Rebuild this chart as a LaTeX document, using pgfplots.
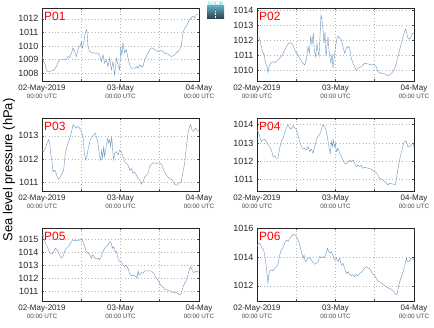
\documentclass[border=0pt]{standalone}
\usepackage{fontspec}
\setmainfont{Liberation Sans}
\usepackage{pgfplots}
\pgfplotsset{compat=1.18}
\definecolor{linec}{RGB}{105,150,192}
\definecolor{utc}{RGB}{70,70,70}
\definecolor{gridc}{RGB}{180,180,180}
\newcommand{\tl}[1]{#1\\[-1pt]{\fontsize{6.3}{7}\selectfont\color{utc}00:00 UTC}}
\pgfplotsset{panel/.style={
  scale only axis, width=157pt, height=73pt, anchor=south west,
  xmin=0, xmax=48, xtick={0,12,24,36,48},
  xticklabels={{\tl{02-May-2019}},,{\tl{03-May}},,{\tl{04-May}}},
  xticklabel style={align=center, font=\fontsize{8}{9}\selectfont, text=black!85},
  yticklabel style={font=\fontsize{9}{10}\selectfont, text=black!85},
  /pgf/number format/assume math mode=true,
  /pgf/number format/1000 sep={},
  /pgf/number format/fixed,
  ymajorgrids, xmajorgrids,
  grid style={gridc, line width=0.5pt, dash pattern=on 0.7pt off 2.6pt},
  tick align=inside, major tick length=2pt,
  tick style={black!70, line width=0.5pt},
  axis line style={black!85, line width=0.7pt},
  cycle list={{linec, line width=0.9pt, no marks, line join=round}},
}}
\newcommand{\plab}[1]{\node[anchor=north west, inner sep=0pt, text=red, font=\fontsize{12}{12}\selectfont] at ([xshift=2pt,yshift=-3.6pt]rel axis cs:0,1) {#1};}
\begin{document}
\begin{tikzpicture}
\useasboundingbox (0,0) rectangle (434pt,327pt);
% P01
\begin{axis}[panel, at={(42pt,246pt)}, ymin=1007.43, ymax=1012.8, ytick={1008,1009,1010,1011,1012}]
\addplot table {
0 1009.23
0.51 1008.86
1.02 1008.62
1.32 1008.25
1.83 1008.12
2.85 1008.17
3.57 1008.20
4.38 1008.49
4.89 1008.79
5.40 1008.99
6.42 1008.99
7.44 1009.04
7.95 1009.23
8.46 1009.16
8.97 1009.48
9.48 1009.85
9.99 1009.60
10.50 1009.23
11.01 1009.73
11.31 1009.98
11.72 1009.98
12.03 1010.35
12.33 1009.85
12.74 1010.22
13.15 1010.89
13.55 1011.21
13.76 1011.09
14.06 1009.98
14.57 1009.60
15.08 1009.53
16.10 1009.48
17.12 1009.48
17.63 1009.36
18.14 1008.86
18.65 1009.36
19.16 1008.74
19.67 1008.99
20.18 1008.49
20.69 1009.11
21.20 1008.25
21.71 1008.86
22.22 1007.88
22.73 1009.11
23.24 1008.62
23.75 1008.25
24.05 1009.85
24.46 1009.36
24.76 1010.22
25.27 1009.48
25.78 1009.73
26.29 1009.11
26.80 1008.62
27.31 1008.37
28.33 1008.37
28.84 1008.49
29.35 1008.37
29.86 1008.62
30.37 1008.49
30.88 1008.49
31.39 1008.99
31.90 1009.23
32.41 1009.48
32.92 1009.73
33.43 1009.85
33.94 1009.85
34.45 1009.73
35.46 1009.60
36.48 1009.68
37.50 1009.48
38.52 1009.41
39.54 1009.23
40.56 1009.36
41.58 1009.60
42.09 1009.73
42.60 1010.10
43.11 1010.96
43.62 1011.33
44.13 1011.46
44.64 1011.70
45.15 1011.95
45.66 1012.07
46.17 1012.20
46.68 1012.07
47.18 1012.32
47.80 1012.32
};
\plab{P01}
\end{axis}
% P02
\begin{axis}[panel, at={(257pt,246pt)}, ymin=1009.31, ymax=1014.18, ytick={1010,1011,1012,1013,1014}]
\addplot table {
0 1012.28
0.51 1012.28
1.02 1011.94
1.53 1011.39
2.14 1011.05
2.55 1010.60
3.06 1010.27
3.36 1009.87
3.67 1010.27
4.18 1010.49
4.89 1010.60
5.61 1010.54
6.42 1010.72
7.44 1010.94
8.25 1011.27
8.97 1011.61
9.68 1011.83
10.29 1011.88
11.01 1011.72
11.72 1011.27
12.33 1011.16
12.74 1010.94
13.35 1010.72
14.06 1010.49
14.57 1010.38
15.08 1010.72
15.59 1011.61
16.00 1011.16
16.41 1012.28
16.82 1011.72
17.22 1012.50
17.53 1011.39
17.94 1010.94
18.34 1011.83
18.65 1011.27
18.96 1010.94
19.26 1012.28
19.57 1013.73
19.87 1013.40
20.18 1012.73
20.48 1011.83
20.79 1012.61
21.10 1010.94
21.40 1011.61
21.71 1012.28
22.01 1011.39
22.32 1010.83
22.62 1010.49
22.93 1011.16
23.24 1010.16
23.54 1010.72
23.95 1011.50
24.36 1012.06
24.76 1012.32
25.27 1012.17
25.78 1012.06
26.29 1011.61
26.80 1011.16
27.31 1011.50
27.82 1011.61
28.33 1011.50
28.84 1010.83
29.35 1010.49
29.86 1010.27
30.37 1010.00
30.88 1010.16
31.90 1010.27
32.92 1010.49
33.94 1010.45
34.96 1010.38
35.77 1010.42
36.48 1010.27
36.99 1009.93
38.01 1009.82
39.03 1009.78
40.05 1009.66
40.56 1009.71
41.07 1009.82
41.58 1009.93
42.09 1010.16
42.60 1010.49
43.11 1010.94
43.62 1011.39
44.13 1011.83
44.64 1012.28
45.15 1012.61
45.45 1012.77
45.76 1012.50
46.17 1012.17
46.68 1012.10
47.18 1012.32
47.69 1012.50
48.00 1012.50
};
\plab{P02}
\end{axis}
% P03
\begin{axis}[panel, at={(42pt,136pt)}, ymin=1010.62, ymax=1013.77, ytick={1011,1012,1013}]
\addplot table {
0 1012.39
0.51 1012.32
1.02 1012.46
1.53 1012.68
2.04 1012.83
2.34 1012.68
2.65 1012.25
3.06 1011.88
3.36 1011.45
3.67 1011.52
4.08 1011.49
4.59 1011.26
5.10 1011.13
5.61 1011.23
6.11 1011.38
6.62 1011.52
7.13 1012.25
7.64 1012.54
8.15 1012.75
8.66 1012.97
9.17 1013.26
9.48 1013.48
9.99 1013.41
10.50 1013.33
11.01 1013.41
11.52 1013.33
12.03 1013.19
12.54 1012.97
12.94 1012.25
13.35 1011.96
13.76 1012.17
14.27 1012.54
14.78 1012.83
15.29 1012.97
15.80 1013.04
16.31 1013.12
16.61 1012.97
17.12 1012.68
17.63 1012.10
17.94 1011.96
18.24 1012.39
18.55 1012.03
18.85 1012.54
19.16 1012.10
19.46 1012.39
19.77 1012.68
20.08 1012.90
20.38 1012.68
20.69 1012.83
20.99 1012.54
21.30 1012.97
21.61 1012.39
21.91 1011.96
22.22 1012.25
22.73 1012.32
23.24 1012.17
23.75 1012.39
24.25 1012.32
24.76 1012.10
25.27 1011.88
25.78 1011.81
26.29 1011.74
26.80 1011.52
27.31 1011.59
27.82 1011.38
28.33 1011.45
28.84 1011.30
29.35 1011.16
29.86 1011.09
30.37 1010.91
30.88 1011.01
31.39 1011.23
31.90 1011.30
32.41 1011.38
32.92 1011.67
33.43 1011.78
33.94 1011.84
34.96 1011.81
35.97 1011.84
36.69 1011.74
37.20 1011.52
38.01 1011.30
39.03 1011.16
39.85 1011.09
40.56 1010.91
41.07 1010.87
41.89 1010.97
42.60 1011.01
43.11 1011.45
43.62 1011.81
44.13 1012.54
44.64 1013.12
45.15 1013.41
45.45 1013.48
45.86 1013.26
46.37 1013.19
46.88 1013.33
47.39 1013.26
48.00 1013.19
};
\plab{P03}
\end{axis}
% P04
\begin{axis}[panel, at={(257pt,136pt)}, ymin=1010.36, ymax=1014.37, ytick={1011,1012,1013,1014}]
\addplot table {
0 1013.72
0.31 1013.63
0.82 1013.36
1.32 1013.08
1.83 1013.17
2.34 1013.21
2.85 1013.08
3.36 1012.90
3.87 1012.80
4.38 1012.62
4.89 1012.25
5.40 1012.29
5.91 1012.16
6.42 1012.16
6.93 1012.71
7.44 1013.08
7.95 1013.26
8.46 1013.54
8.97 1013.82
9.48 1014.00
9.99 1013.82
10.50 1013.76
11.01 1013.94
11.52 1013.82
12.03 1013.72
12.54 1013.45
13.04 1013.08
13.55 1012.80
14.06 1012.66
14.57 1012.71
15.08 1012.62
15.59 1012.80
16.10 1012.53
16.61 1012.66
17.12 1012.43
17.63 1012.80
18.14 1013.17
18.65 1013.36
19.16 1013.45
19.67 1013.72
20.18 1014.00
20.69 1013.91
21.20 1013.63
21.50 1013.36
21.81 1012.99
22.11 1012.62
22.42 1012.43
22.73 1013.08
23.03 1012.80
23.34 1013.17
23.64 1012.80
23.95 1012.99
24.25 1012.53
24.76 1012.71
25.27 1012.43
25.78 1012.25
26.29 1012.07
26.80 1011.88
27.31 1011.85
27.82 1011.97
28.33 1012.07
28.84 1011.97
29.35 1012.07
29.86 1011.88
30.37 1011.70
30.88 1011.79
31.39 1011.70
31.90 1011.79
32.41 1011.61
32.92 1011.66
33.94 1011.61
34.96 1011.55
35.97 1011.42
36.69 1011.33
37.50 1011.05
38.52 1010.96
39.54 1010.81
40.05 1010.69
40.56 1010.78
41.58 1010.74
42.29 1010.69
42.80 1011.24
43.31 1011.79
43.82 1012.25
44.33 1012.62
44.84 1012.99
45.35 1013.12
45.66 1013.08
46.17 1012.77
46.68 1012.80
47.18 1012.90
47.69 1012.99
48.00 1012.77
};
\plab{P04}
\end{axis}
% P05
\begin{axis}[panel, at={(42pt,26pt)}, ymin=1010.25, ymax=1015.88, ytick={1011,1012,1013,1014,1015}]
\addplot table {
0 1015.23
0.31 1015.36
0.61 1015.10
1.02 1014.71
1.53 1014.45
2.04 1014.19
2.55 1013.94
3.06 1013.86
3.57 1014.06
4.08 1014.32
4.59 1014.19
5.10 1013.94
5.61 1013.68
6.01 1013.55
6.42 1013.68
6.93 1014.06
7.44 1014.32
7.95 1014.45
8.46 1014.58
8.97 1014.84
9.48 1014.97
9.99 1014.90
10.50 1014.95
11.01 1014.90
11.52 1014.97
12.03 1015.05
12.54 1014.84
13.04 1014.45
13.55 1014.06
14.06 1013.94
14.57 1013.86
15.08 1013.55
15.59 1013.81
16.10 1013.60
16.61 1013.49
17.12 1013.55
17.63 1013.42
18.14 1013.68
18.65 1014.06
19.16 1014.32
19.67 1014.45
20.18 1014.58
20.69 1014.84
21.20 1014.71
21.50 1014.32
21.91 1014.45
22.32 1014.06
22.73 1014.06
23.24 1013.55
23.75 1013.29
24.25 1013.29
24.76 1013.03
25.27 1012.90
25.78 1013.03
26.29 1012.77
26.80 1012.38
27.31 1012.19
27.82 1012.25
28.33 1012.19
28.84 1012.12
29.04 1011.99
29.35 1012.56
29.66 1012.25
30.37 1012.45
30.88 1012.38
31.39 1012.56
32.41 1012.58
33.43 1012.56
33.94 1012.45
34.45 1012.25
34.96 1011.99
35.46 1011.86
35.97 1011.60
36.48 1011.42
36.99 1011.34
37.50 1011.16
38.52 1011.08
39.54 1010.95
40.56 1010.90
41.07 1010.90
41.58 1010.82
42.09 1010.74
42.60 1010.82
43.11 1011.34
43.62 1011.60
44.13 1011.86
44.64 1012.25
45.15 1012.77
45.45 1012.90
45.86 1012.64
46.37 1012.45
46.88 1012.51
47.39 1012.56
48.00 1012.45
};
\plab{P05}
\end{axis}
% P06
\begin{axis}[panel, at={(257pt,26pt)}, ymin=1010.94, ymax=1016.05, ytick={1012,1014,1016}]
\addplot table {
0 1014.75
0.31 1014.92
0.71 1014.99
1.12 1014.87
1.53 1014.64
2.04 1014.52
2.34 1014.16
2.65 1013.69
2.96 1013.11
3.16 1012.64
3.36 1012.16
3.57 1012.75
3.87 1013.04
4.38 1013.11
4.89 1013.04
5.40 1013.22
5.91 1013.34
6.42 1013.51
6.93 1014.16
7.44 1014.52
7.95 1014.68
8.46 1014.99
8.97 1015.22
9.48 1015.11
9.99 1015.34
10.50 1015.46
11.01 1015.62
11.52 1015.58
12.03 1015.46
12.54 1015.22
13.04 1014.87
13.55 1014.40
14.06 1013.93
14.37 1014.16
14.78 1013.69
15.18 1013.81
15.59 1013.93
16.10 1013.98
16.61 1013.81
17.12 1013.65
17.63 1013.51
18.14 1013.58
18.65 1013.69
19.16 1014.05
19.67 1013.98
20.18 1014.05
20.69 1013.98
21.20 1014.35
21.50 1014.64
21.91 1014.40
22.32 1014.28
22.73 1014.40
23.24 1014.12
23.75 1013.81
24.25 1013.93
24.76 1013.69
25.27 1013.93
25.78 1013.46
26.29 1013.58
26.80 1013.22
27.31 1012.87
27.82 1012.99
28.33 1012.80
28.84 1012.71
29.35 1012.80
29.86 1012.64
30.37 1012.80
30.88 1012.71
31.39 1012.87
31.90 1012.94
32.41 1013.11
32.92 1013.22
33.43 1013.34
33.94 1013.27
34.45 1013.18
34.96 1012.99
35.46 1012.80
35.97 1012.75
36.48 1012.52
36.99 1012.33
37.50 1012.28
38.01 1012.24
38.52 1012.09
39.03 1012.00
40.05 1011.86
41.07 1011.76
41.58 1011.69
42.09 1011.46
42.60 1011.39
42.90 1011.46
43.31 1012.05
43.82 1012.40
44.33 1012.75
44.84 1013.11
45.35 1013.58
45.66 1013.93
45.96 1013.69
46.47 1013.69
46.98 1013.93
47.49 1013.93
48.00 1013.81
};
\plab{P06}
\end{axis}
% y label
\node[rotate=90, font=\fontsize{13}{13}\selectfont] at (9pt,157pt) {Sea level pressure (hPa)};
% logo
\shade[top color={rgb,255:red,95;green,170;blue,185}, bottom color={rgb,255:red,45;green,60;blue,72}] (207pt,308pt) rectangle (224pt,321pt);
\draw[white, densely dotted, line width=0.6pt] (215.5pt,309pt) -- (215.5pt,316pt);
\node[font=\fontsize{5}{5}\selectfont, text={rgb,255:red,70;green,200;blue,220}, inner sep=0pt] at (215.5pt,323.5pt) {SOCIB};
\end{tikzpicture}
\end{document}
